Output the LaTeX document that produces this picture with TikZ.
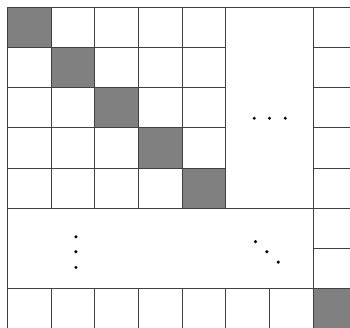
\documentclass[tikz,border=0pt]{standalone}
\begin{document}
\begin{tikzpicture}[x=1pt,y=-1pt]
\tikzset{cellline/.style={draw=black!75, line width=0.9pt},
         diagcell/.style={fill=black!50},
         dotmark/.style={fill=black}}
\useasboundingbox (0,0) rectangle (350,328);
\clip (0,0) rectangle (350,328);
\begin{scope}[shift={(7.3,7.3)}, x=43.7pt, y=-40.2pt]
% Diagonal cells
\foreach \i in {0,...,4}
  \fill[diagcell] (\i,\i) rectangle ++(1,1);
\fill[diagcell] (7,7) rectangle (8,8);

% Leading block
\foreach \k in {1,...,4} {
  \draw[cellline] (0,\k) -- (5,\k);
  \draw[cellline] (\k,0) -- (\k,5);
}

% Block borders
\draw[cellline] (0,0) rectangle (8,8);
\draw[cellline] (0,5) -- (8,5);
\draw[cellline] (0,7) -- (8,7);
\draw[cellline] (5,0) -- (5,5);
\draw[cellline] (7,0) -- (7,8);

% Last column and last row
\foreach \k in {1,...,6} {
  \draw[cellline] (7,\k) -- (8,\k);
  \draw[cellline] (\k,7) -- (\k,8);
}

% Dots
\foreach \x in {5.65,6.0,6.36}
  \fill[dotmark] (\x,2.76) circle (1.7pt);
\foreach \y in {5.71,6.08,6.47}
  \fill[dotmark] (1.57,\y) circle (1.7pt);
\foreach \x/\y in {5.68/5.83,5.94/6.08,6.20/6.34}
  \fill[dotmark] (\x,\y) circle (1.7pt);
\end{scope}
\end{tikzpicture}
\end{document}
